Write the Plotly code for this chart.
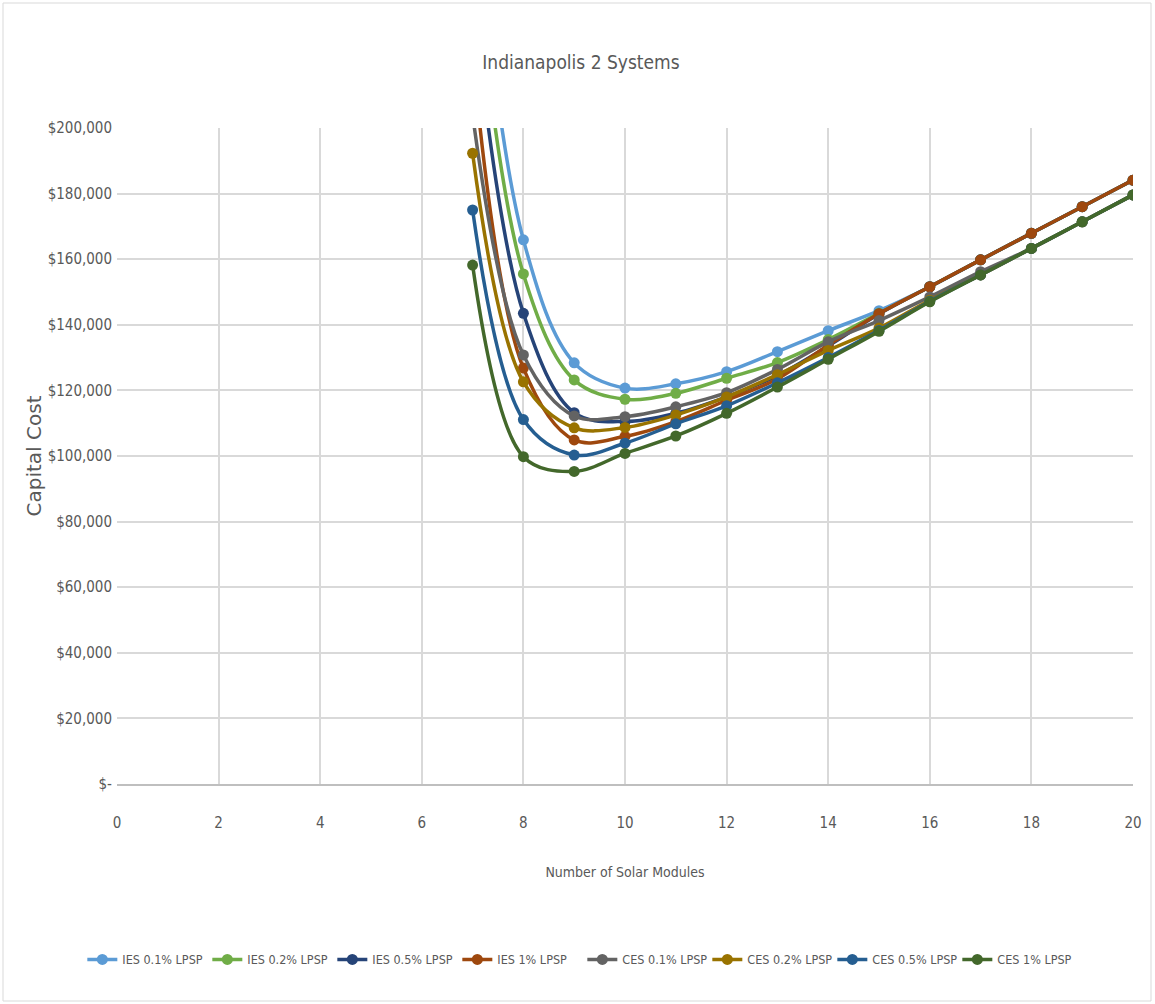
import plotly.graph_objects as go

modules = [7, 8, 9, 10, 11, 12, 13, 14, 15, 16, 17, 18, 19, 20]

ies_01 = [275000, 165900, 128400, 120700, 122000, 125700, 131800, 138200, 144300, 151600, 159800, 167900, 176000, 184100]
ies_02 = [258000, 155500, 123200, 117300, 119100, 123700, 128500, 135500, 143500, 151600, 159800, 167900, 176000, 184100]
ies_05 = [240000, 143500, 113200, 110500, 113000, 118000, 124500, 133500, 143300, 151600, 159800, 167900, 176000, 184100]
ies_1 = [222000, 126800, 104900, 106000, 110500, 117000, 123500, 133800, 143400, 151600, 159800, 167900, 176000, 184100]
ces_01 = [204000, 130800, 112200, 112000, 115000, 119300, 126400, 134800, 141300, 148500, 156200, 163300, 171400, 179600]
ces_02 = [192300, 122600, 108600, 108700, 112500, 118000, 124800, 132200, 139000, 147500, 155200, 163300, 171400, 179600]
ces_05 = [175000, 111100, 100300, 103900, 109800, 115300, 122300, 130000, 138300, 147200, 155200, 163300, 171400, 179600]
ces_1 = [158200, 99800, 95300, 100800, 106100, 113000, 121000, 129500, 138000, 147000, 155200, 163300, 171400, 179600]

series_names = ["IES 0.1% LPSP", "IES 0.2% LPSP", "IES 0.5% LPSP", "IES 1% LPSP",
                "CES 0.1% LPSP", "CES 0.2% LPSP", "CES 0.5% LPSP", "CES 1% LPSP"]
series_values = [ies_01, ies_02, ies_05, ies_1, ces_01, ces_02, ces_05, ces_1]
series_colors = ["#5B9BD5", "#70AD47", "#264478", "#9E480E",
                 "#636363", "#997300", "#255E91", "#43682B"]

y_tick_vals = [0, 20000, 40000, 60000, 80000, 100000, 120000, 140000, 160000, 180000, 200000]
y_tick_text = ["$-", "$20,000", "$40,000", "$60,000", "$80,000", "$100,000",
               "$120,000", "$140,000", "$160,000", "$180,000", "$200,000"]

NARROW = "Liberation Sans Narrow, Arial Narrow, DejaVu Sans Condensed, sans-serif"
TEXT = "#595959"

fig = go.Figure()
for name, vals, col in zip(series_names, series_values, series_colors):
    fig.add_trace(go.Scatter(
        x=modules, y=vals, name=name, mode="lines+markers",
        line=dict(color=col, width=3.5, shape="spline", smoothing=1.0),
        marker=dict(color=col, size=11, symbol="circle"),
        cliponaxis=True,
    ))

fig.update_layout(
    width=1155, height=1004,
    margin=dict(l=117, r=22, t=128, b=220, autoexpand=False),
    paper_bgcolor="white", plot_bgcolor="white",
    font=dict(family=NARROW, color=TEXT, size=15),
    title=dict(text="Indianapolis 2 Systems", x=0.503, xanchor="center",
               y=0.938, yanchor="middle",
               font=dict(family=NARROW, size=19, color=TEXT)),
    showlegend=True,
    legend=dict(orientation="h", x=0.458, xanchor="center",
                y=-0.268, yanchor="middle",
                font=dict(family=NARROW, size=12.5, color=TEXT),
                itemwidth=30, entrywidth=80, entrywidthmode="pixels",
                traceorder="normal"),
    xaxis=dict(range=[0, 20], dtick=2, tick0=0, showgrid=True, gridcolor="#D9D9D9",
               gridwidth=1.5, zeroline=False, showline=True, linecolor="#BFBFBF",
               linewidth=1.5, ticks="", ticklabelstandoff=24,
               tickfont=dict(family=NARROW, size=15, color=TEXT),
               title=dict(text="Number of Solar Modules", standoff=36,
                          font=dict(family=NARROW, size=14, color=TEXT))),
    yaxis=dict(range=[0, 200000], tickvals=y_tick_vals, ticktext=y_tick_text,
               showgrid=True, gridcolor="#D9D9D9", gridwidth=1.5, zeroline=False,
               showline=False, ticks="", ticklabelstandoff=4,
               tickfont=dict(family=NARROW, size=15, color=TEXT),
               title=dict(text="Capital Cost", standoff=0,
                          font=dict(family="DejaVu Sans, Verdana, sans-serif", size=20, color=TEXT))),
)

fig.add_shape(type="rect", xref="paper", yref="paper",
              x0=(3 - 117) / 1016, x1=(1151 - 117) / 1016,
              y0=(784 - 1001) / 656, y1=(784 - 3) / 656,
              line=dict(color="#D9D9D9", width=1), fillcolor="rgba(0,0,0,0)", layer="below")

fig.write_html("out.html")
